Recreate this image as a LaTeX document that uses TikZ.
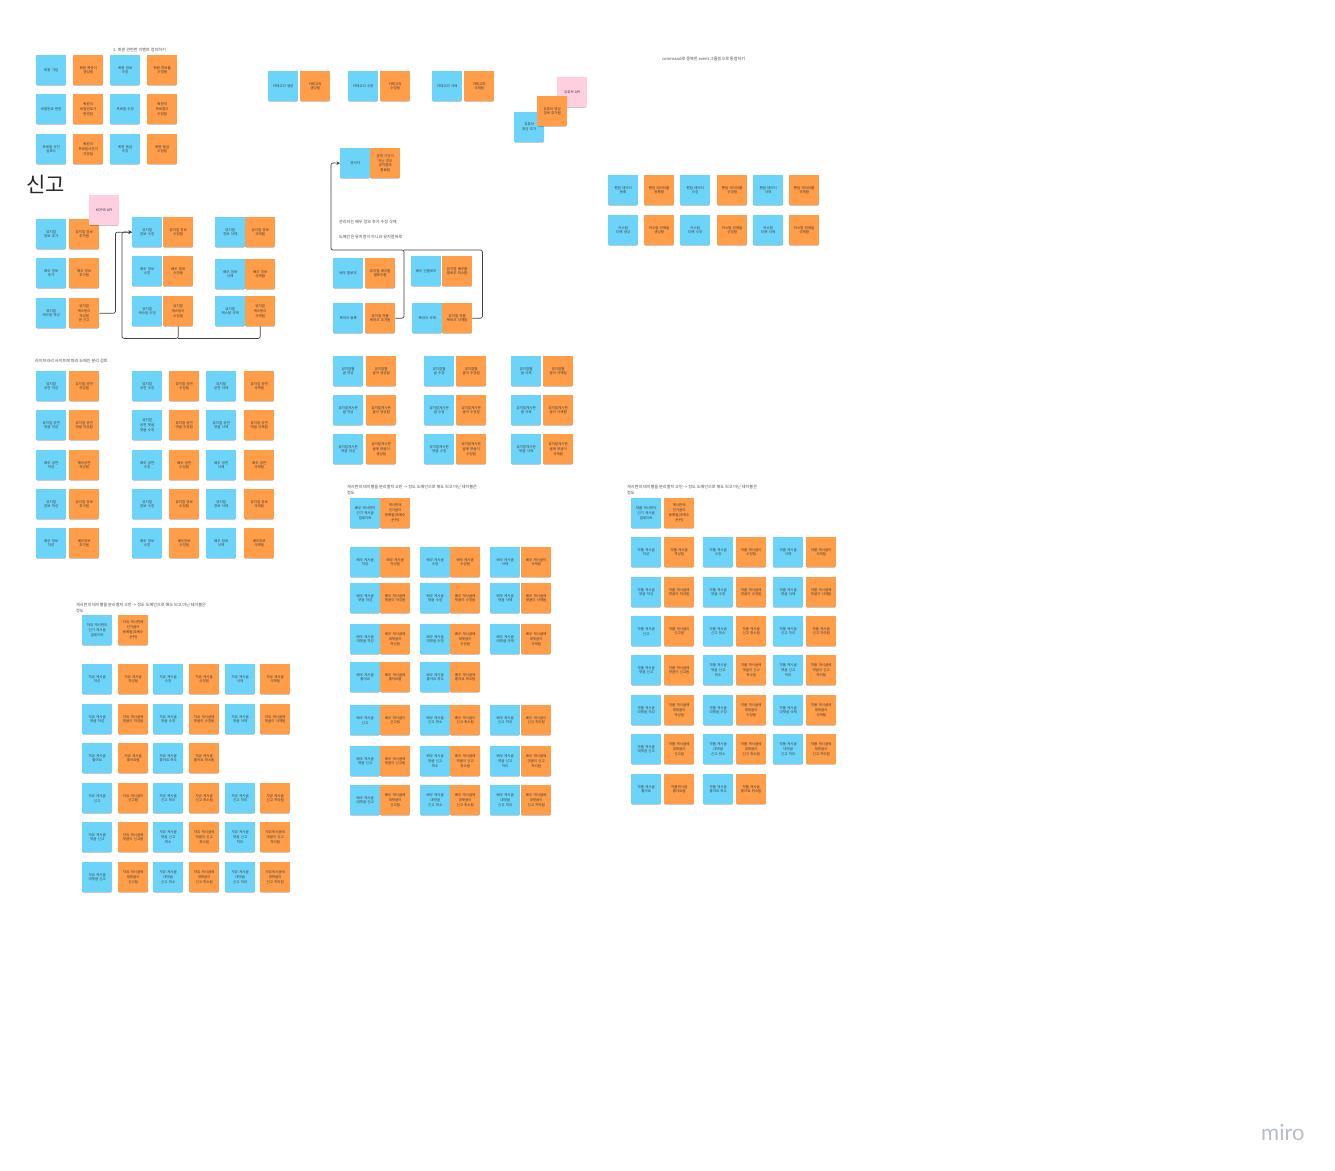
\documentclass[tikz,border=0pt]{standalone}
\usepackage{fontspec}
\setmainfont{Noto Sans CJK KR}
\newfontfamily\logofont{Lato}
\usetikzlibrary{shadows,arrows.meta,calc}
\definecolor{stblue}{HTML}{6CD4F8}
\definecolor{storange}{HTML}{FF9D48}
\definecolor{stpink}{HTML}{FFCFE0}
\definecolor{sttext}{HTML}{3A3A3A}
\definecolor{logogray}{HTML}{B8BDC6}
\tikzset{
 stk/.style={anchor=north west, minimum width=30pt, minimum height=30pt, inner sep=0pt, text width=21pt, align=center, font=\fontsize{3.5}{4.9}\selectfont, text=sttext, general shadow={fill=black, opacity=0.22, shadow scale=0.94, shadow yshift=-1.6pt}},
 stb/.style={stk, fill=stblue},
 sto/.style={stk, fill=storange},
 stp/.style={stk, fill=stpink},
 hdr/.style={anchor=west, inner sep=0pt, font=\fontsize{4.1}{5}\selectfont, text=black!70},
 conn/.style={draw=black!75, line width=0.7pt, rounded corners=2pt},
 tip/.style={-{Stealth[length=3.5pt,width=3.5pt]}},
}
\newcommand\pr[6]{\node[stb] (#1b) at (#2,#4) {#5};\node[sto] (#1o) at (#3,#4) {#6};}
\begin{document}
\begin{tikzpicture}[x=1pt,y=-1pt]
\fill[white] (0,0) rectangle (1335,1170);
\path[use as bounding box] (0,0) rectangle (1335,1170);

% A: member
\node[hdr] (hA) at (113,50) {1. 회원 관련한 이벤트 정의하기};
\pr{A1}{36}{73}{55}{회원 가입}{회원 계정이 생성됨}
\pr{A2}{110}{147}{55}{회원 정보 수정}{회원 정보를 수정함}
\pr{A3}{36}{73}{94}{비밀번호 변경}{회원의 비밀번호가 변경됨}
\pr{A4}{110}{147}{94}{프로필 수정}{회원의 프로필이 수정됨}
\pr{A5}{36}{73}{134}{프로필 사진 업로드}{회원의 프로필사진이 저장됨}
\pr{A6}{110}{147}{134}{회원 등급 수정}{회원 등급 수정됨}

% B: category
\pr{B1}{268}{300}{71}{카테고리 생성}{카테고리 생성됨}
\pr{B2}{348}{380}{71}{카테고리 수정}{카테고리 수정됨}
\pr{B3}{432}{464}{71}{카테고리 삭제}{카테고리 삭제됨}
\node[stb] (B4b) at (514,112) {유튜브 영상 추가};
\node[stp] (B4p) at (557,77) {유튜브 API};
\node[sto] (B4o) at (537,96) {유튜브 영상 정보 추가됨};

% C
\node[hdr] (hC) at (662,59) {command로 중복된 event 그룹핑으로 통합하기};
\pr{C1}{608}{644}{175}{팬덤 데이터 등록}{팬덤 데이터를 등록함}
\pr{C2}{680}{717}{175}{팬덤 데이터 수정}{팬덤 데이터를 수정함}
\pr{C3}{753}{789}{175}{팬덤 데이터 삭제}{팬덤 데이터를 삭제함}
\pr{C4}{608}{644}{215}{커스텀 티켓 생성}{커스텀 티켓을 생성함}
\pr{C5}{680}{717}{215}{커스텀 티켓 수정}{커스텀 티켓을 수정함}
\pr{C6}{753}{789}{215}{커스텀 티켓 삭제}{커스텀 티켓을 삭제함}

% D: report
\node[anchor=north west, inner sep=0pt, font=\fontsize{21}{24}\selectfont, text=black!85] (hD) at (26,175) {신고};
\pr{D1L}{36}{69}{219}{뮤지컬 정보 추가}{뮤지컬 정보 추가됨}
\pr{D2L}{36}{69}{258}{배우 정보 추가}{배우 정보 추가됨}
\pr{D3L}{36}{69}{298}{뮤지컬 캐스팅 작성}{뮤지컬 캐스팅이 작성됨 ~ 본 신고}
\node[stp] (D0p) at (89,195) {KOPIS API};
\pr{D1M}{132}{163}{217}{뮤지컬 정보 수정}{뮤지컬 정보 수정됨}
\pr{D2M}{132}{163}{256}{배우 정보 수정}{배우 정보 수정됨}
\pr{D3M}{132}{163}{296}{뮤지컬 캐스팅 수정}{뮤지컬 캐스팅이 수정됨}
\pr{D1R}{215}{245}{217}{뮤지컬 정보 삭제}{뮤지컬 정보 삭제됨}
\pr{D2R}{215}{245}{259}{배우 정보 삭제}{배우 정보 삭제됨}
\pr{D3R}{215}{245}{296}{뮤지컬 캐스팅 삭제}{뮤지컬 캐스팅이 삭제됨}
\coordinate (Dj) at (122,232);
\draw[conn,tip] (D3Lo.east) -- ++(16,0) |- (D1Mb.west);
\draw[conn,tip] (D3Mo.south) -- ++(0,12) -| (Dj) -- (D1Mb.west);
\draw[conn] (D3Ro.south) -- ++(0,12) -- ($(D3Mo.south)+(0,12)$);

% E
\pr{E0}{340}{370}{148}{관리자}{공연 기간이 지난 경우 뮤지컬에 종료됨}
\node[hdr] (hE1) at (339,222) {관리자는 배우 정보 추가 수정 삭제};
\node[hdr] (hE2) at (339,237) {도메인은 뮤지컬이 아니라 뮤지컬뷰로};
\pr{E1L}{333}{365}{258}{배우 팔로우}{뮤지컬 배우를 팔로우함}
\pr{E1R}{411}{442}{256}{배우 언팔로우}{뮤지컬 배우를 팔로우 취소함}
\pr{E2L}{333}{365}{303}{북마크 등록}{뮤지컬 작품 북마크 추가됨}
\pr{E2R}{412}{442}{303}{북마크 삭제}{뮤지컬 작품 북마크 삭제됨}
\coordinate (Ej) at (404,250);
\coordinate (Ec) at (331,163);
\draw[conn,tip] (E2Lo.east) -| (Ej) -| (Ec) -- (E0b.west);
\draw[conn] (E2Ro.east) -- ++(10,0) |- (Ej);

% F
\node[hdr] (hF) at (35,361) {라이브러리 사이트에 따라 도메인 분리 검토};
\pr{F11}{36}{69}{371}{뮤지컬 공연 작성}{뮤지컬 공연 작성됨}
\pr{F12}{132}{169}{371}{뮤지컬 공연 수정}{뮤지컬 공연 수정됨}
\pr{F13}{206}{244}{371}{뮤지컬 공연 삭제}{뮤지컬 공연 삭제됨}
\pr{F21}{36}{69}{410}{뮤지컬 공연 댓글 작성}{뮤지컬 공연 댓글 작성됨}
\pr{F22}{132}{169}{410}{뮤지컬 공연 댓글 댓글 수정}{뮤지컬 공연 댓글 수정됨}
\pr{F23}{206}{244}{410}{뮤지컬 공연 댓글 삭제}{뮤지컬 공연 댓글 삭제됨}
\pr{F31}{36}{69}{450}{배우 공연 작성}{배우공연 작성됨}
\pr{F32}{132}{169}{450}{배우 공연 수정}{배우 공연 수정됨}
\pr{F33}{206}{244}{450}{배우 공연 삭제}{배우 공연 삭제됨}
\pr{F41}{36}{69}{489}{뮤지컬 정보 작성}{뮤지컬 정보 추가됨}
\pr{F42}{132}{169}{489}{뮤지컬 정보 수정}{뮤지컬 정보 수정됨}
\pr{F43}{206}{244}{489}{뮤지컬 정보 삭제}{뮤지컬 정보 삭제됨}
\pr{F51}{36}{69}{528}{배우 정보 작성}{배우정보 추가됨}
\pr{F52}{132}{169}{528}{배우 정보 수정}{배우정보 수정됨}
\pr{F53}{206}{244}{528}{배우 정보 삭제}{배우정보 삭제됨}

% G
\pr{G11}{333}{366}{356}{뮤지컬별 글 작성}{뮤지컬별 글이 생성됨}
\pr{G12}{424}{456}{356}{뮤지컬별 글 수정}{뮤지컬별 글이 수정됨}
\pr{G13}{511}{543}{356}{뮤지컬별 글 삭제}{뮤지컬별 글이 삭제됨}
\pr{G21}{333}{366}{395}{뮤지컬게시판 글 작성}{뮤지컬게시판 글이 생성됨}
\pr{G22}{424}{456}{395}{뮤지컬게시판 글 수정}{뮤지컬게시판 글이 수정됨}
\pr{G23}{511}{543}{395}{뮤지컬게시판 글 삭제}{뮤지컬게시판 글이 삭제됨}
\pr{G31}{333}{366}{434}{뮤지컬게시판 댓글 작성}{뮤지컬게시판 글에 댓글이 생성됨}
\pr{G32}{424}{456}{434}{뮤지컬게시판 댓글 수정}{뮤지컬게시판 글에 댓글이 수정됨}
\pr{G33}{511}{543}{434}{뮤지컬게시판 댓글 삭제}{뮤지컬게시판 글에 댓글이 삭제됨}

% H: free board
\node[hdr] (hH1) at (76,605) {게시판의 테이블을 분리할지 고민 -> 정도 도메인으로 해도 되고 아닌 테이블은};
\node[hdr] (hH2) at (76,610.5) {정도};
\pr{H0}{82}{118}{615}{자유 게시판의 인기 게시글 업데이트}{자유 게시판에 인기글이 등록됨(조회수 순위)}
\pr{H11}{82}{118}{664}{자유 게시글 작성}{자유 게시글 작성됨}
\pr{H12}{153}{189}{664}{자유 게시글 수정}{자유 게시글 수정됨}
\pr{H13}{225}{260}{664}{자유 게시글 삭제}{자유 게시글 삭제됨}
\pr{H21}{82}{118}{704}{자유 게시글 댓글 작성}{자유 게시글에 댓글이 작성됨}
\pr{H22}{153}{189}{704}{자유 게시글 댓글 수정}{자유 게시글에 댓글이 수정됨}
\pr{H23}{225}{260}{704}{자유 게시글 댓글 삭제}{자유 게시글에 댓글이 삭제됨}
\pr{H31}{82}{118}{743}{자유 게시글 좋아요}{자유 게시글 좋아요됨}
\pr{H32}{153}{189}{743}{자유 게시글 좋아요 취소}{자유 게시글 좋아요 취소됨}
\pr{H41}{82}{118}{783}{자유 게시글 신고}{자유 게시글이 신고됨}
\pr{H42}{153}{189}{783}{자유 게시글 신고 취소}{자유 게시글 신고 취소됨}
\pr{H43}{225}{260}{783}{자유 게시글 신고 처리}{자유 게시글 신고 처리됨}
\pr{H51}{82}{118}{822}{자유 게시글 댓글 신고}{자유 게시글에 댓글이 신고됨}
\pr{H52}{153}{189}{822}{자유 게시글 댓글 신고 취소}{자유 게시글에 댓글이 신고 취소됨}
\pr{H53}{225}{260}{822}{자유 게시글 댓글 신고 처리}{자유게시글에 댓글이 신고 처리됨}
\pr{H61}{82}{118}{862}{자유 게시글 대댓글 신고}{자유 게시글에 대댓글이 신고됨}
\pr{H62}{153}{189}{862}{자유 게시글 대댓글 신고 취소}{자유 게시글에 대댓글이 신고 취소됨}
\pr{H63}{225}{260}{862}{자유 게시글 대댓글 신고 처리}{자유게시글에 대댓글이 신고 처리됨}

% I: actor board
\node[hdr] (hI1) at (347,487) {게시판의 테이블을 분리할지 고민 -> 정도 도메인으로 해도 되고 아닌 테이블은};
\node[hdr] (hI2) at (347,492.5) {정도};
\pr{I0}{350}{380}{498}{배우 게시판의 인기 게시글 업데이트}{게시판에 인기글이 등록됨(조회수 순위)}
\pr{I11}{350}{380}{547}{배우 게시글 작성}{배우 게시글 작성됨}
\pr{I12}{420}{450}{547}{배우 게시글 수정}{배우 게시글 수정됨}
\pr{I13}{490}{521}{547}{배우 게시글 삭제}{배우 게시글이 삭제됨}
\pr{I21}{350}{380}{583}{배우 게시글 댓글 작성}{배우 게시글에 댓글이 작성됨}
\pr{I22}{420}{450}{583}{배우 게시글 댓글 수정}{배우 게시글에 댓글이 수정됨}
\pr{I23}{490}{521}{583}{배우 게시글 댓글 삭제}{배우 게시글에 댓글이 삭제됨}
\pr{I31}{350}{380}{624}{배우 게시글 대댓글 작성}{배우 게시글에 대댓글이 작성됨}
\pr{I32}{420}{450}{624}{배우 게시글 대댓글 수정}{배우 게시글에 대댓글이 수정됨}
\pr{I33}{490}{521}{624}{배우 게시글 대댓글 삭제}{배우 게시글에 대댓글이 삭제됨}
\pr{I41}{350}{380}{662}{배우 게시글 좋아요}{배우 게시글에 좋아요됨}
\pr{I42}{420}{450}{662}{배우 게시글 좋아요 취소}{배우 게시글에 좋아요 취소됨}
\pr{I51}{350}{380}{705}{배우 게시글 신고}{배우 게시글이 신고됨}
\pr{I52}{420}{450}{705}{배우 게시글 신고 취소}{배우 게시글이 신고 취소됨}
\pr{I53}{490}{521}{705}{배우 게시글 신고 처리}{배우 게시글이 신고 처리됨}
\pr{I61}{350}{380}{746}{배우 게시글 댓글 신고}{배우 게시글에 댓글이 신고됨}
\pr{I62}{420}{450}{746}{배우 게시글 댓글 신고 취소}{배우 게시글에 댓글이 신고 취소됨}
\pr{I63}{490}{521}{746}{배우 게시글 댓글 신고 처리}{배우 게시글에 댓글이 신고 처리됨}
\pr{I71}{350}{380}{785}{배우 게시글 대댓글 신고}{배우 게시글에 대댓글이 신고됨}
\pr{I72}{420}{450}{785}{배우 게시글 대댓글 신고 취소}{배우 게시글에 대댓글이 신고 취소됨}
\pr{I73}{490}{521}{785}{배우 게시글 대댓글 신고 처리}{배우 게시글에 대댓글이 신고 처리됨}

% J: work board
\node[hdr] (hJ1) at (627,487) {게시판의 테이블을 분리할지 고민 -> 정도 도메인으로 해도 되고 아닌 테이블은};
\node[hdr] (hJ2) at (627,492.5) {정도};
\pr{J0}{631}{664}{498}{작품 게시판의 인기 게시글 업데이트}{게시판에 인기글이 등록됨(조회수 순위)}
\pr{J11}{631}{664}{537}{작품 게시글 작성}{작품 게시글 작성됨}
\pr{J12}{703}{736}{537}{작품 게시글 수정}{작품 게시글이 수정됨}
\pr{J13}{773}{806}{537}{작품 게시글 삭제}{작품 게시글이 삭제됨}
\pr{J21}{631}{664}{577}{작품 게시글 댓글 작성}{작품 게시글에 댓글이 작성됨}
\pr{J22}{703}{736}{577}{작품 게시글 댓글 수정}{작품 게시글에 댓글이 수정됨}
\pr{J23}{773}{806}{577}{작품 게시글 댓글 삭제}{작품 게시글에 댓글이 삭제됨}
\pr{J31}{631}{664}{616}{작품 게시글 신고}{작품 게시글이 신고됨}
\pr{J32}{703}{736}{616}{작품 게시글 신고 취소}{작품 게시글 신고 취소됨}
\pr{J33}{773}{806}{616}{작품 게시글 신고 처리}{작품 게시글 신고 처리됨}
\pr{J41}{631}{664}{655}{작품 게시글 댓글 신고}{작품 게시글에 댓글이 신고됨}
\pr{J42}{703}{736}{655}{작품 게시글 댓글 신고 취소}{작품 게시글에 댓글이 신고 취소됨}
\pr{J43}{773}{806}{655}{작품 게시글 댓글 신고 처리}{작품 게시글에 댓글이 신고 처리됨}
\pr{J51}{631}{664}{695}{작품 게시글 대댓글 작성}{작품 게시글에 대댓글이 작성됨}
\pr{J52}{703}{736}{695}{작품 게시글 대댓글 수정}{작품 게시글에 대댓글이 수정됨}
\pr{J53}{773}{806}{695}{작품 게시글 대댓글 삭제}{작품 게시글에 대댓글이 삭제됨}
\pr{J61}{631}{664}{734}{작품 게시글 대댓글 신고}{작품 게시글에 대댓글이 신고됨}
\pr{J62}{703}{736}{734}{작품 게시글 대댓글 신고 취소}{작품 게시글에 대댓글이 신고 취소됨}
\pr{J63}{773}{806}{734}{작품 게시글 대댓글 신고 처리}{작품 게시글에 대댓글이 신고 처리됨}
\pr{J71}{631}{664}{774}{작품 게시글 좋아요}{작품게시글 좋아요됨}
\pr{J72}{703}{736}{774}{작품 게시글 좋아요 취소}{작품 게시글 좋아요 취소됨}

% logo
\node[anchor=west, inner sep=0pt, font=\logofont\fontsize{22}{22}\selectfont, text=logogray] (logo) at (1261,1133) {miro};
\end{tikzpicture}
\end{document}
